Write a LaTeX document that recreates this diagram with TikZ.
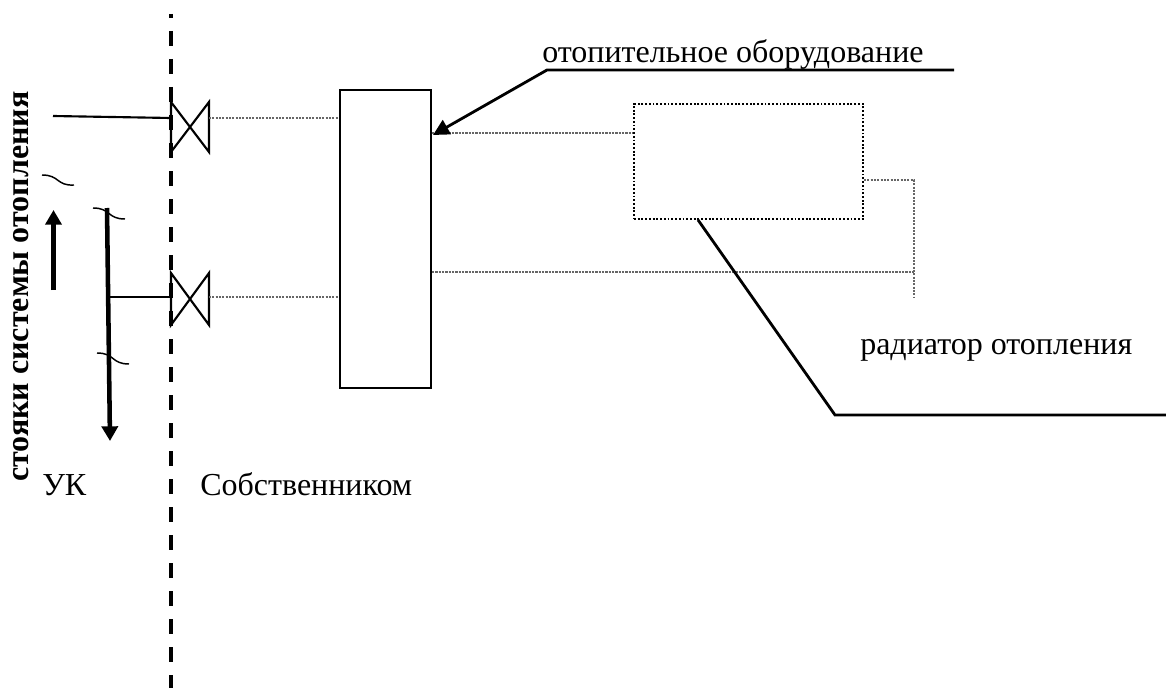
\documentclass[tikz,border=0pt]{standalone}
\usepackage{fontspec}
\setmainfont{Liberation Serif}
\usetikzlibrary{arrows.meta}
\tikzset{
  boxnode/.style={draw,line width=1.6pt,inner sep=0,minimum width=68.25pt,minimum height=223.5pt},
  radnode/.style={draw,line width=1.4pt,dash pattern=on 1.4pt off 1.4pt,inner sep=0,minimum width=171.75pt,minimum height=86.25pt},
  txt/.style={inner sep=0,anchor=base west,font=\fontsize{24}{28}\selectfont},
  pipe/.style={line width=0.9pt,draw=black!60,dash pattern=on 1.6pt off 0.9pt},
  leader/.style={line width=2.1pt},
  squiggle/.style={line width=1.1pt},
  valve/.style={line width=1.6pt},
  flow/.style={line width=3.4pt,-{Triangle[width=12pt,length=11pt]}}
}
\begin{document}
\begin{tikzpicture}[x=0.75pt,y=-0.75pt]
\useasboundingbox (0,0) rectangle (1166,688);
% border line
\coordinate (bordertop) at (171,14);
\coordinate (borderend) at (171,688);
\draw[line width=3.2pt,dash pattern=on 11.25pt off 9.75pt,dash phase=8.25pt] (bordertop) -- (borderend);
% boxes
\node[boxnode] (unit) at (385.5,239) {};
\node[radnode] (radiator) at (748.5,161.5) {};
% valves
\draw[valve] (171,102) -- (209,152) -- (209,102) -- (171,152) -- cycle;
\draw[valve] (171,273) -- (209,325) -- (209,273) -- (171,325) -- cycle;
\coordinate (valvea) at (209,118);
\coordinate (valveb) at (209,297);
\coordinate (valvea0) at (171,118);
\coordinate (valveb0) at (171,297);
% pipes
\coordinate (risera) at (53,116);
\coordinate (riserb) at (108,297);
\draw[line width=1.6pt] (risera) -- (valvea0);
\draw[line width=1.6pt] (riserb) -- (valveb0);
\draw[pipe] (valvea) -- (valvea -| unit.west);
\draw[pipe] (valveb) -- (valveb -| unit.west);
\coordinate (joint) at (914,272);
\coordinate (tail) at (914,298);
\coordinate (radout) at (914,180);
\draw[pipe] (unit.east |- 0,133) -- (radiator.west |- 0,133);
\draw[pipe] (unit.east |- joint) -- (joint);
\draw[pipe] (radiator.east |- radout) -- (radout) -- (tail);
% flows
\coordinate (downtop) at (107,208);
\coordinate (downend) at (110,441);
\coordinate (upstart) at (53.5,290);
\coordinate (upend) at (53.5,210);
\draw[flow] (downtop) -- (downend);
\draw[flow] (upstart) -- (upend);
% breaks
\draw[squiggle] (42,175) .. controls (60,175) and (56,186) .. (74,185);
\draw[squiggle] (93,208) .. controls (111,208) and (107,219) .. (125,219);
\draw[squiggle] (97,353) .. controls (115,353) and (111,364) .. (129,364);
% leaders
\coordinate (leadera) at (954,70);
\coordinate (leaderb) at (547,70);
\coordinate (leadertip) at (433,135);
\coordinate (leaderc) at (1166,415);
\coordinate (leaderd) at (835,415);
\draw[leader,-{Triangle[width=12pt,length=12pt]}] (leadera) -- (leaderb) -- (leadertip);
\draw[leader] (leaderc) -- (leaderd) -- (radiator.south -| 698,0);
% texts
\node[txt] (equip) at (542,63) {отопительное оборудование};
\node[txt] (radlabel) at (860,354.5) {радиатор отопления};
\node[txt] (owner) at (200,495) {Собственником};
\node[txt] (uk) at (42,495) {УК};
\node[txt,font=\fontsize{24}{28}\selectfont\bfseries,rotate=90] (risers) at (28.5,482) {стояки системы отопления};
\end{tikzpicture}
\end{document}
